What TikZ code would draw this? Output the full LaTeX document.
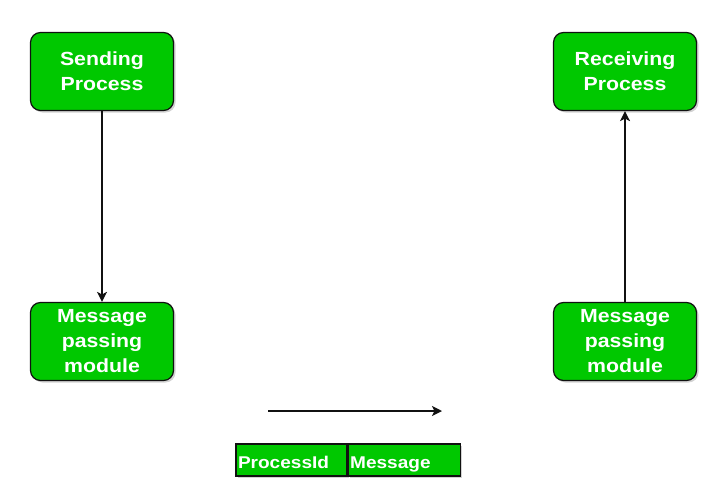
\documentclass[tikz,border=0pt]{standalone}
\usepackage{fontspec}
\setmainfont{Liberation Sans}
\newfontfamily\boxfont[FakeStretch=1.12]{Liberation Sans}
\usetikzlibrary{arrows.meta,positioning,shadows}
\definecolor{ProcGreen}{HTML}{00C800}
\definecolor{Edge}{HTML}{111111}

\begin{document}
\begin{tikzpicture}[x=1pt,y=-1pt,>={Stealth[length=10pt,width=10pt,inset=2.5pt]},
  procbox/.style={rounded corners=10pt,fill=ProcGreen,draw=Edge,line width=1.2pt,
    minimum width=143pt,minimum height=78pt,align=center,text=white,
    font=\boxfont\bfseries\fontsize{19}{25}\selectfont,
    drop shadow={shadow xshift=2pt,shadow yshift=-2pt,opacity=0.35}},
  cellbox/.style={fill=ProcGreen,draw=Edge,line width=1.2pt,
    minimum height=32pt,inner xsep=2pt,text width=107pt,align=left,text=white,
    text height=17pt,text depth=1pt,
    font=\boxfont\bfseries\fontsize{17}{20}\selectfont,
    drop shadow={shadow xshift=2pt,shadow yshift=-2pt,opacity=0.35}},
  flow/.style={->,line width=1.4pt,Edge}]
\useasboundingbox (0,0) rectangle (717,487);
% processes
\node[procbox] (send) at (102,71.5) {Sending\\Process};
\node[procbox] (recv) at (625,71.5) {Receiving\\Process};
% message passing modules
\node[procbox] (sendmod) at (102,341.5) {Message\\passing\\module};
\node[procbox] (recvmod) at (625,341.5) {Message\\passing\\module};
\draw[flow] (send) -- (sendmod);
\draw[flow] (recvmod) -- (recv);
% message on the way
\coordinate (msgfrom) at (268,411);
\coordinate (msgto) at (442,411);
\draw[flow] (msgfrom) -- (msgto);
\node[cellbox] (pid) at (291.5,460) {ProcessId};
\node[cellbox,right=0pt of pid,text width=108pt] (msg) {Message};
\end{tikzpicture}
\end{document}
